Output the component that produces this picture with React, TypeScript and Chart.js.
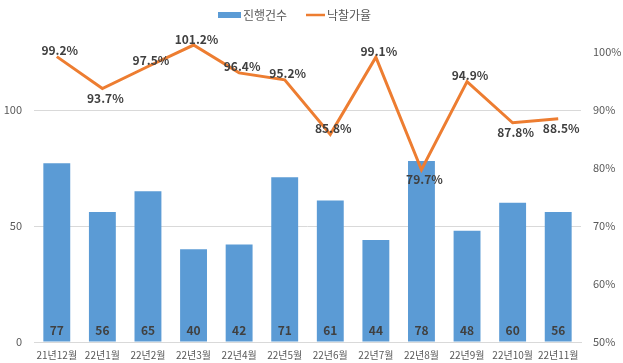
import React, { useEffect, useRef } from "react";
import { Chart, registerables } from "chart.js";

Chart.register(...registerables);

const categories = ["21년12월", "22년1월", "22년2월", "22년3월", "22년4월", "22년5월", "22년6월", "22년7월", "22년8월", "22년9월", "22년10월", "22년11월"];
const countValues = [77, 56, 65, 40, 42, 71, 61, 44, 78, 48, 60, 56];
const rateValues = [99.2, 93.7, 97.5, 101.2, 96.4, 95.2, 85.8, 99.1, 79.7, 94.9, 87.8, 88.5];
const rateLabelBelow = [false, true, false, false, false, false, false, false, true, false, true, true];
const leftTicks = [0, 50, 100];
const rightTicks = [50, 60, 70, 80, 90, 100];

const BAR = "#5B9BD5";
const LINE = "#ED7D31";
const OFFSET = 30;
const FONT = "'Noto Sans CJK KR', 'Noto Sans', sans-serif";

const labelPlugin = {
  id: "customLabels",
  afterDatasetsDraw(chart: any) {
    const ctx = chart.ctx;
    ctx.save();
    // bar labels
    const barMeta = chart.getDatasetMeta(0);
    ctx.font = `bold 12px ${FONT}`;
    ctx.fillStyle = "#404040";
    ctx.textAlign = "center";
    ctx.textBaseline = "middle";
    const bottom = chart.chartArea.bottom;
    barMeta.data.forEach((el: any, i: number) => {
      ctx.fillText(String(countValues[i]), el.x, bottom - 12);
    });
    // line labels
    const lineMeta = chart.getDatasetMeta(1);
    lineMeta.data.forEach((el: any, i: number) => {
      const dy = rateLabelBelow[i] ? 10 : -6;
      ctx.fillText(rateValues[i].toFixed(1) + "%", el.x + 3, el.y + dy);
    });
    // legend
    ctx.font = `12px ${FONT}`;
    ctx.textAlign = "left";
    const ly = 15 + OFFSET;
    ctx.fillStyle = BAR;
    ctx.fillRect(218, ly - 3, 23, 6);
    ctx.fillStyle = "#595959";
    ctx.fillText("진행건수", 243, ly);
    ctx.strokeStyle = LINE;
    ctx.lineWidth = 2.5;
    ctx.beginPath();
    ctx.moveTo(306, ly);
    ctx.lineTo(325, ly);
    ctx.stroke();
    ctx.fillText("낙찰가율", 327, ly);
    ctx.restore();
  },
};

export default function App() {
  const ref = useRef<HTMLCanvasElement>(null);
  useEffect(() => {
    document.body.style.margin = "0";
    const chart = new Chart(ref.current!, {
      type: "bar",
      data: {
        labels: categories,
        datasets: [
          {
            type: "bar",
            label: "진행건수",
            data: countValues,
            backgroundColor: BAR,
            yAxisID: "y",
            barPercentage: 0.59,
            categoryPercentage: 1,
            order: 2,
          },
          {
            type: "line",
            label: "낙찰가율",
            data: rateValues,
            borderColor: LINE,
            backgroundColor: LINE,
            borderWidth: 3,
            pointRadius: 0,
            tension: 0,
            yAxisID: "y1",
            order: 1,
          } as any,
        ],
      },
      options: {
        animation: false,
        responsive: false,
        maintainAspectRatio: false,
        layout: { padding: { top: OFFSET - 6, left: 0, right: 0, bottom: 0 } },
        plugins: { legend: { display: false }, tooltip: { enabled: false } },
        scales: {
          x: {
            grid: { display: false, drawTicks: false },
            border: { display: true, color: "#D9D9D9" },
            ticks: { color: "#595959", font: { family: FONT, size: 10 }, padding: 7, maxRotation: 0, autoSkip: false },
            afterFit: (s: any) => { s.height = 21; },
          },
          y: {
            position: "left",
            min: 0,
            max: 150,
            afterBuildTicks: (s: any) => { s.ticks = [...leftTicks, 150].map((v) => ({ value: v })); },
            grid: { color: "#D9D9D9", drawTicks: false },
            border: { display: false },
            ticks: { color: "#595959", font: { family: FONT, size: 11 }, padding: 12, callback: (v: any) => (v === 150 ? "" : String(v)) },
            afterFit: (s: any) => { s.width = 34; },
          },
          y1: {
            position: "right",
            min: 50,
            max: 110,
            afterBuildTicks: (s: any) => { s.ticks = [...rightTicks, 110].map((v) => ({ value: v })); },
            grid: { display: false, drawTicks: false },
            border: { display: false },
            ticks: { color: "#595959", font: { family: FONT, size: 11 }, padding: 12, callback: (v: any) => (v === 110 ? "" : v + "%") },
            afterFit: (s: any) => { s.width = 42; },
          },
        },
      },
      plugins: [labelPlugin],
    });
    return () => chart.destroy();
  }, []);
  return (
    <div style={{ position: "relative", width: 623, height: 363, overflow: "hidden", background: "#fff" }}>
      <canvas ref={ref} width={623} height={363 + OFFSET} style={{ position: "absolute", left: 0, top: -OFFSET, width: 623, height: 363 + OFFSET }} />
    </div>
  );
}
